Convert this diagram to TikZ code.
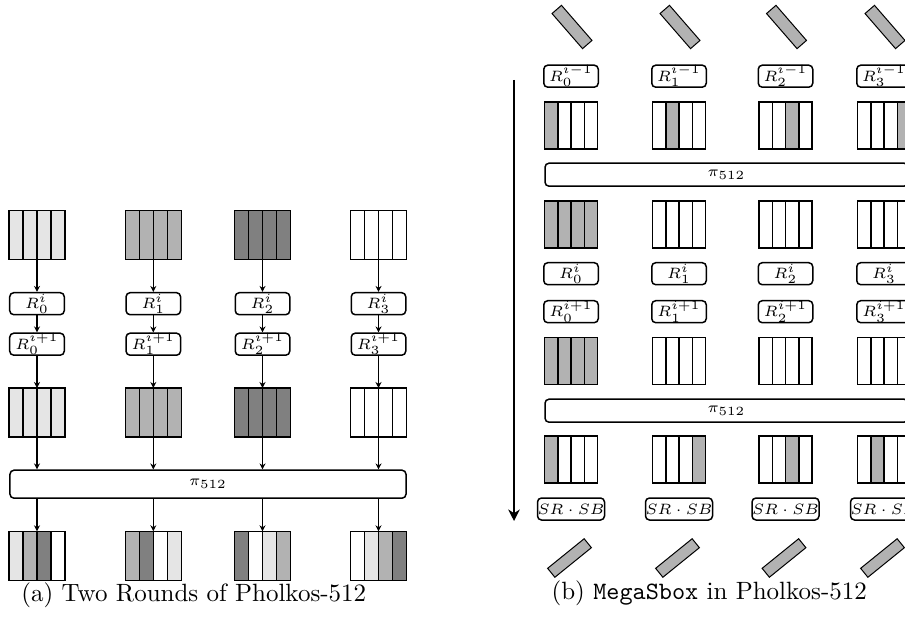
\documentclass[tikz,border=0pt]{standalone}
\usepackage{amsmath}
\usetikzlibrary{arrows.meta,positioning,calc}

\colorlet{lite}{black!10}
\colorlet{mid}{black!30}
\colorlet{dark}{black!50}

% register block: name, x, y, four stripe colours, size style
\newcommand{\regs}[5]{%
  \node[#5] (#1) at (#2,#3) {};
  \foreach \c [count=\k from 0] in {#4}
    \draw[fill=\c, semithick] ($(#1.north west)!\k/4!(#1.north east)$)
      rectangle ($(#1.south west)!{(\k+1)/4}!(#1.south east)$);
}

\begin{document}
\begin{tikzpicture}[
  x=0.4pt, y=-0.4pt,
  blka/.style={minimum width=22pt, minimum height=19.2pt, inner sep=0pt},
  blkb/.style={minimum width=20.8pt, minimum height=18.4pt, inner sep=0pt},
  rnd/.style={draw, semithick, rounded corners=1.6pt, minimum width=21.8pt,
              minimum height=8.8pt, inner sep=0pt, font=\fontsize{6}{7}\selectfont},
  perm/.style={draw, semithick, rounded corners=1.6pt, inner sep=0pt,
               font=\fontsize{6}{7}\selectfont},
  bar/.style={draw, fill=black!30, minimum width=18.6pt, minimum height=5pt, inner sep=0pt},
  arr/.style={line width=0.5pt, -{Stealth[length=2.4pt, width=2.4pt]}},
  flow/.style={line width=0.8pt, -{Stealth[length=4.6pt, width=4.6pt]}}
]
\useasboundingbox (0,0) rectangle (905,618);
\clip (0,0) rectangle (905,618);

% (a) two rounds
\regs{a0}{37}{235}{lite,lite,lite,lite}{blka}
\regs{a1}{153.3}{235}{mid,mid,mid,mid}{blka}
\regs{a2}{262.5}{235}{dark,dark,dark,dark}{blka}
\regs{a3}{378.5}{235}{white,white,white,white}{blka}

\node[rnd] (ra0) at (37,303.7) {$R^{i}_{0}$};
\node[rnd] (ra1) at (153.3,303.7) {$R^{i}_{1}$};
\node[rnd] (ra2) at (262.5,303.7) {$R^{i}_{2}$};
\node[rnd] (ra3) at (378.5,303.7) {$R^{i}_{3}$};

\node[rnd] (rb0) at (37,344.2) {$R^{i+1}_{0}$};
\node[rnd] (rb1) at (153.3,344.2) {$R^{i+1}_{1}$};
\node[rnd] (rb2) at (262.5,344.2) {$R^{i+1}_{2}$};
\node[rnd] (rb3) at (378.5,344.2) {$R^{i+1}_{3}$};

\regs{b0}{37}{412.5}{lite,lite,lite,lite}{blka}
\regs{b1}{153.3}{412.5}{mid,mid,mid,mid}{blka}
\regs{b2}{262.5}{412.5}{dark,dark,dark,dark}{blka}
\regs{b3}{378.5}{412.5}{white,white,white,white}{blka}

\node[perm, minimum width=158.4pt, minimum height=11.2pt] (pa) at (208,484.2) {$\pi_{512}$};

\regs{c0}{37}{555.8}{lite,mid,dark,white}{blka}
\regs{c1}{153.3}{555.8}{mid,dark,white,lite}{blka}
\regs{c2}{262.5}{555.8}{dark,white,lite,mid}{blka}
\regs{c3}{378.5}{555.8}{white,lite,mid,dark}{blka}

\foreach \k in {0,...,3} {
  \draw[arr] (a\k) -- (ra\k);
  \draw[arr] (ra\k) -- (rb\k);
  \draw[arr] (rb\k) -- (b\k);
  \draw[arr] (b\k) -- (b\k |- pa.north);
  \draw[arr] (pa.south -| c\k) -- (c\k);
}

\node[anchor=base] (capa) at (193.8,601) {(a) Two Rounds of Pholkos-512};

% (b) MegaSbox
\coordinate (fst) at (514,80);
\coordinate (fen) at (514,521);
\draw[flow] (fst) -- (fen);

\node[bar, rotate=-49] (t0) at (572,27) {};
\node[bar, rotate=-49] (t1) at (680,27) {};
\node[bar, rotate=-49] (t2) at (786.5,27) {};
\node[bar, rotate=-49] (t3) at (885,27) {};

\node[rnd] (rc0) at (571,76.2) {$R^{i-1}_{0}$};
\node[rnd] (rc1) at (679,76.2) {$R^{i-1}_{1}$};
\node[rnd] (rc2) at (785.5,76.2) {$R^{i-1}_{2}$};
\node[rnd] (rc3) at (884,76.2) {$R^{i-1}_{3}$};

\regs{d0}{571}{125.5}{mid,white,white,white}{blkb}
\regs{d1}{679}{125.5}{white,mid,white,white}{blkb}
\regs{d2}{785.5}{125.5}{white,white,mid,white}{blkb}
\regs{d3}{884}{125.5}{white,white,white,mid}{blkb}

\node[perm, minimum width=145.2pt, minimum height=9.2pt] (pb) at (726.5,174.7) {$\pi_{512}$};

\regs{e0}{571}{224.5}{mid,mid,mid,mid}{blkb}
\regs{e1}{679}{224.5}{white,white,white,white}{blkb}
\regs{e2}{785.5}{224.5}{white,white,white,white}{blkb}
\regs{e3}{884}{224.5}{white,white,white,white}{blkb}

\node[rnd] (rd0) at (571,273.7) {$R^{i}_{0}$};
\node[rnd] (rd1) at (679,273.7) {$R^{i}_{1}$};
\node[rnd] (rd2) at (785.5,273.7) {$R^{i}_{2}$};
\node[rnd] (rd3) at (884,273.7) {$R^{i}_{3}$};

\node[rnd] (re0) at (571,311.7) {$R^{i+1}_{0}$};
\node[rnd] (re1) at (679,311.7) {$R^{i+1}_{1}$};
\node[rnd] (re2) at (785.5,311.7) {$R^{i+1}_{2}$};
\node[rnd] (re3) at (884,311.7) {$R^{i+1}_{3}$};

\regs{f0}{571}{360.8}{mid,mid,mid,mid}{blkb}
\regs{f1}{679}{360.8}{white,white,white,white}{blkb}
\regs{f2}{785.5}{360.8}{white,white,white,white}{blkb}
\regs{f3}{884}{360.8}{white,white,white,white}{blkb}

\node[perm, minimum width=145.2pt, minimum height=9.2pt] (pc) at (726.5,410.7) {$\pi_{512}$};

\regs{g0}{571}{459.7}{mid,white,white,white}{blkb}
\regs{g1}{679}{459.7}{white,white,white,mid}{blkb}
\regs{g2}{785.5}{459.7}{white,white,mid,white}{blkb}
\regs{g3}{884}{459.7}{white,mid,white,white}{blkb}

\node[rnd] (sb0) at (571,509) {$SR\cdot SB$};
\node[rnd] (sb1) at (679,509) {$SR\cdot SB$};
\node[rnd] (sb2) at (785.5,509) {$SR\cdot SB$};
\node[rnd] (sb3) at (884,509) {$SR\cdot SB$};

\node[bar, rotate=39, minimum width=18.8pt, minimum height=4.6pt] (u0) at (569.5,558) {};
\node[bar, rotate=39, minimum width=18.8pt, minimum height=4.6pt] (u1) at (677.5,558) {};
\node[bar, rotate=39, minimum width=18.8pt, minimum height=4.6pt] (u2) at (784,558) {};
\node[bar, rotate=39, minimum width=18.8pt, minimum height=4.6pt] (u3) at (882.5,558) {};

\node[anchor=base] (capb) at (709.2,599) {(b) \texttt{MegaSbox} in Pholkos-512};
\end{tikzpicture}
\end{document}
